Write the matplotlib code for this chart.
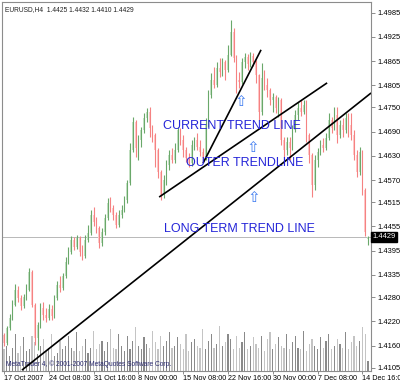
import numpy as np
import matplotlib
matplotlib.use("Agg")
import matplotlib.pyplot as plt
import matplotlib.transforms as mtransforms

# ---------------- data (EURUSD H4, prices in pips /10000) ----------------
opens = [14186, 14166, 14203, 14228, 14260, 14298, 14278, 14258, 14280, 14298,
         14342, 14260, 14179, 14211, 14253, 14236, 14228, 14250, 14233, 14278,
         14310, 14303, 14332, 14367, 14392, 14422, 14404, 14427, 14392, 14382,
         14422, 14439, 14484, 14466, 14451, 14414, 14441, 14476, 14513, 14501,
         14484, 14459, 14484, 14496, 14521, 14563, 14645, 14714, 14650, 14669,
         14694, 14724, 14739, 14699, 14682, 14645, 14590, 14533, 14570, 14607,
         14632, 14620, 14645, 14694, 14669, 14645, 14625, 14612, 14657, 14669,
         14652, 14640, 14625, 14707, 14781, 14818, 14806, 14848, 14838, 14863,
         14843, 14880, 14937, 14873, 14818, 14813, 14863, 14875, 14858, 14878,
         14863, 14831, 14739, 14823, 14806, 14793, 14769, 14776, 14749, 14769,
         14669, 14645, 14664, 14650, 14694, 14731, 14749, 14739, 14756, 14682,
         14632, 14558, 14620, 14640, 14657, 14650, 14674, 14719, 14699, 14731,
         14682, 14707, 14694, 14724, 14707, 14682, 14632, 14590, 14640, 14545,
         14425]
highs = [14191, 14208, 14238, 14273, 14312, 14307, 14285, 14288, 14312, 14352,
         14347, 14265, 14218, 14265, 14268, 14253, 14263, 14260, 14285, 14320,
         14332, 14340, 14380, 14404, 14431, 14429, 14434, 14431, 14409, 14434,
         14459, 14496, 14503, 14479, 14456, 14451, 14486, 14526, 14528, 14508,
         14491, 14496, 14508, 14531, 14570, 14662, 14726, 14719, 14682, 14702,
         14736, 14749, 14751, 14707, 14687, 14650, 14595, 14583, 14620, 14645,
         14650, 14662, 14702, 14699, 14682, 14652, 14637, 14669, 14677, 14687,
         14669, 14650, 14724, 14793, 14836, 14850, 14863, 14873, 14873, 14868,
         14905, 14967, 14947, 14880, 14838, 14873, 14885, 14883, 14888, 14885,
         14868, 14833, 14860, 14843, 14823, 14798, 14786, 14781, 14776, 14774,
         14677, 14677, 14677, 14707, 14744, 14764, 14769, 14769, 14769, 14687,
         14637, 14632, 14650, 14669, 14674, 14687, 14736, 14726, 14751, 14751,
         14719, 14724, 14736, 14736, 14736, 14694, 14645, 14652, 14645, 14550,
         14432]
lows = [14159, 14161, 14198, 14223, 14258, 14268, 14248, 14253, 14273, 14295,
        14255, 14161, 14149, 14203, 14223, 14218, 14223, 14223, 14228, 14273,
        14293, 14298, 14327, 14362, 14387, 14397, 14399, 14382, 14372, 14377,
        14417, 14434, 14456, 14439, 14402, 14407, 14434, 14471, 14491, 14471,
        14451, 14454, 14476, 14491, 14513, 14558, 14640, 14627, 14620, 14652,
        14687, 14714, 14677, 14664, 14603, 14575, 14521, 14526, 14558, 14595,
        14612, 14612, 14640, 14657, 14627, 14615, 14603, 14605, 14645, 14645,
        14630, 14615, 14620, 14702, 14774, 14798, 14801, 14826, 14828, 14818,
        14838, 14878, 14863, 14786, 14798, 14808, 14848, 14843, 14850, 14853,
        14811, 14719, 14731, 14793, 14776, 14756, 14739, 14736, 14726, 14657,
        14627, 14632, 14620, 14645, 14689, 14719, 14729, 14734, 14664, 14612,
        14528, 14545, 14603, 14632, 14640, 14645, 14669, 14687, 14694, 14662,
        14674, 14677, 14687, 14677, 14669, 14620, 14578, 14583, 14533, 14431,
        14410]
closes = [14166, 14203, 14228, 14260, 14298, 14278, 14258, 14280, 14298, 14342,
          14260, 14179, 14211, 14253, 14236, 14228, 14250, 14233, 14278, 14310,
          14303, 14332, 14367, 14392, 14422, 14404, 14427, 14392, 14382, 14422,
          14439, 14484, 14466, 14451, 14414, 14441, 14476, 14513, 14501, 14484,
          14459, 14484, 14496, 14521, 14563, 14645, 14714, 14650, 14669, 14694,
          14724, 14739, 14699, 14682, 14645, 14590, 14533, 14570, 14607, 14632,
          14620, 14645, 14694, 14669, 14645, 14625, 14612, 14657, 14669, 14652,
          14640, 14625, 14707, 14781, 14818, 14806, 14848, 14838, 14863, 14843,
          14880, 14937, 14873, 14818, 14813, 14863, 14875, 14858, 14878, 14863,
          14831, 14739, 14823, 14806, 14793, 14769, 14776, 14749, 14769, 14669,
          14645, 14664, 14650, 14694, 14731, 14749, 14739, 14756, 14682, 14632,
          14558, 14620, 14640, 14657, 14650, 14674, 14719, 14699, 14731, 14682,
          14707, 14694, 14724, 14707, 14682, 14632, 14590, 14640, 14545, 14441,
          14429]
volumes = [1300, 1500, 900, 1400, 2200, 1100, 1500, 2000, 1200, 1300,
           2100, 1700, 1000, 1500, 1900, 1200, 1400, 2200, 900, 1100,
           1800, 1300, 1500, 2100, 1400, 1200, 2300, 1200, 1500, 1900,
           1100, 1400, 2400, 1300, 1600, 1800, 1200, 1700, 2500, 1400,
           1300, 2200, 1500, 1200, 2100, 1300, 1800, 2600, 1500, 1300,
           2000, 1600, 1400, 2400, 1700, 1300, 2100, 1500, 1800, 2300,
           1400, 1500, 2000, 1600, 1300, 2200, 1200, 1700, 1900, 1500,
           1400, 2500, 1300, 1800, 2200, 1400, 1600, 2700, 1500, 1700,
           2200, 1900, 1300, 2100, 1400, 1700, 2300, 1300, 1500, 2000,
           1600, 1400, 2100, 1200, 1900, 2300, 1300, 1600, 2000, 1500,
           1400, 2200, 1300, 1700, 2100, 1400, 1300, 2400, 1200, 1600,
           1900, 1500, 1300, 2000, 1400, 1800, 2200, 1300, 1500, 1900,
           1600, 1400, 2300, 1300, 1700, 2100, 1500, 1800, 2600, 2200,
           600]

date_labels = ["17 Oct 2007", "24 Oct 08:00", "31 Oct 16:00", "8 Nov 00:00",
               "15 Nov 08:00", "22 Nov 16:00", "30 Nov 00:00", "7 Dec 08:00",
               "14 Dec 16:00"]
price_ticks = [1.4985, 1.4925, 1.4865, 1.4805, 1.4750, 1.4690, 1.4630, 1.4570,
               1.4515, 1.4455, 1.4395, 1.4335, 1.4280, 1.4220, 1.4160, 1.4105]
last_price = 1.4429
title = "EURUSD,H4  1.4425 1.4432 1.4410 1.4429"

# trend lines: (bar index, price) endpoints
long_term = [(6.4, 1.4099), (131.1, 1.4786)]
outer = [(55.4, 1.4528), (115.4, 1.4811)]
current = [(71.1, 1.4612), (91.8, 1.4893)]

labels = [("CURRENT TREND LINE", 56.8, 1.4704),
          ("OUTER TRENDLINE", 65.0, 1.4612),
          ("LONG TERM TREND LINE", 57.1, 1.4449)]
arrows = [(84.6, 1.4764), (88.9, 1.4652), (89.3, 1.4528)]

# ---------------- plotting ----------------
o = np.array(opens) / 1e4
h = np.array(highs) / 1e4
l = np.array(lows) / 1e4
c = np.array(closes) / 1e4
v = np.array(volumes)
x = np.arange(len(o))
up = c >= o

fig = plt.figure(figsize=(4.0, 3.85), dpi=100)
fig.patch.set_facecolor("white")
ax = fig.add_axes([2 / 400, 14 / 385, 369 / 400, 369 / 385])
axv = ax.twinx()
axv.set_zorder(0)
ax.set_zorder(1)
ax.patch.set_visible(False)

# volumes
vcol = np.where(up, "#8a8a8a", "#c4c4c4")
axv.bar(x, v, width=0.45, color=vcol, linewidth=0)
axv.set_ylim(0, 22000)
axv.set_yticks([])
for s in axv.spines.values():
    s.set_visible(False)

# candles
wick_up, wick_dn = "#6aa86a", "#f58282"
body_up, body_dn = "#c6e2c6", "#ffcaca"
ax.vlines(x[up], l[up], h[up], color=wick_up, lw=0.8, zorder=3)
ax.vlines(x[~up], l[~up], h[~up], color=wick_dn, lw=0.8, zorder=3)
ax.bar(x, np.abs(c - o), bottom=np.minimum(o, c), width=0.6,
       color=np.where(up, body_up, body_dn), linewidth=0, zorder=2)

# last price line
ax.axhline(last_price, color="#b8b8b8", lw=0.7, zorder=1)

# trend lines
for seg in (long_term, outer, current):
    ax.plot([seg[0][0], seg[1][0]], [seg[0][1], seg[1][1]], color="black",
            lw=1.2, zorder=5, solid_capstyle="butt")

for txt, xi, yi in labels:
    ax.text(xi, yi, txt, color="#2525d8", fontsize=9, family="Liberation Sans",
            ha="left", va="center", zorder=6)
for xi, yi in arrows:
    ax.text(xi, yi, "\u21e7", color="#3f7cf0", fontsize=11, family="DejaVu Sans",
            ha="center", va="center", zorder=6)

ax.set_xlim(-0.714, 131.07)
ax.set_ylim(1.40968, 1.50115)

# axes styling
for s in ax.spines.values():
    s.set_color("#8c8c8c")
    s.set_linewidth(0.8)
ax.yaxis.tick_right()
ax.set_yticks(price_ticks)
ax.set_yticklabels([f"{p:.4f}" for p in price_ticks])
ax.tick_params(axis="y", direction="out", length=3, width=0.7, color="#8c8c8c",
               labelsize=5.4, pad=1.5, labelcolor="black")
ax.set_xticks(np.arange(0, len(o), 16))
ax.set_xticklabels(date_labels)
ax.tick_params(axis="x", direction="out", length=2, width=0.7, color="#8c8c8c",
               labelsize=5.2, pad=0.8, labelcolor="black")
for lab in ax.get_xticklabels():
    lab.set_ha("left")
for lab in ax.get_xticklabels() + ax.get_yticklabels():
    lab.set_family("Liberation Sans")

# current price tag
trans = mtransforms.blended_transform_factory(ax.transAxes, ax.transData)
ax.text(1.004, last_price, f"{last_price:.4f}", transform=trans, color="white",
        fontsize=5.4, family="Liberation Sans", ha="left", va="center", zorder=7,
        bbox=dict(facecolor="black", edgecolor="black", pad=0.8), clip_on=False)

# header and watermark
ax.text(0.008, 0.988, title, transform=ax.transAxes, fontsize=4.8,
        family="Liberation Sans", color="#202020", ha="left", va="top")
ax.text(0.01, 0.008, "MetaTrader 4, \u00a9 2001-2007 MetaQuotes Software Corp.",
        transform=ax.transAxes, fontsize=4.8, family="Liberation Sans",
        color="#2a2a70", ha="left", va="bottom", zorder=0.5)

fig.savefig("out.png", dpi=100, facecolor="white")
